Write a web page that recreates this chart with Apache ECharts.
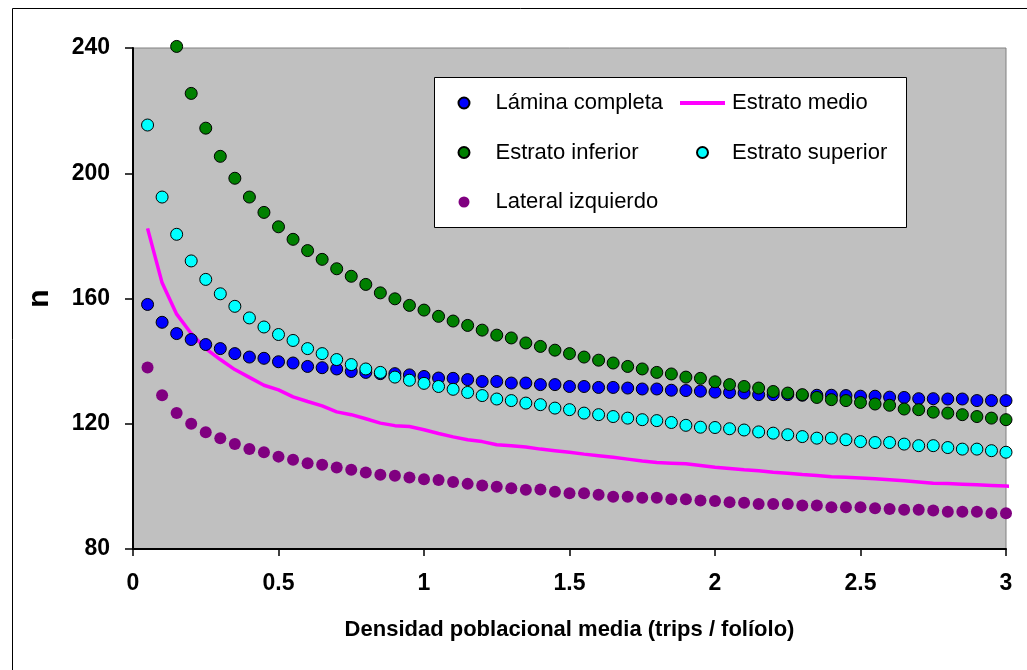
<!DOCTYPE html>
<html><head><meta charset="utf-8">
<script src="https://cdn.jsdelivr.net/npm/echarts@6/dist/echarts.min.js"></script>
<style>html,body{margin:0;padding:0;background:#fff}#c{width:1027px;height:670px}</style>
</head><body><div id="c"></div>
<script>
// x values (trips / folíolo)
const xValues = [0.05,0.1,0.15,0.2,0.25,0.3,0.35,0.4,0.45,0.5,0.55,0.6,0.65,0.7,0.75,0.8,0.85,0.9,0.95,1.0,
  1.05,1.1,1.15,1.2,1.25,1.3,1.35,1.4,1.45,1.5,1.55,1.6,1.65,1.7,1.75,1.8,1.85,1.9,1.95,2.0,
  2.05,2.1,2.15,2.2,2.25,2.3,2.35,2.4,2.45,2.5,2.55,2.6,2.65,2.7,2.75,2.8,2.85,2.9,2.95,3.0];
const laminaCompleta = [158.1,152.4,148.8,146.9,145.3,144.0,142.4,141.3,140.9,139.8,139.4,138.3,137.9,137.5,136.7,136.4,136.0,136.0,135.6,135.1,
  134.6,134.5,134.1,133.5,133.5,133.0,133.0,132.5,132.5,131.9,131.9,131.6,131.6,131.4,131.1,131.1,130.7,130.6,130.4,130.1,
  130.0,129.8,129.3,129.3,129.3,129.1,129.1,129.1,129.0,128.8,128.8,128.5,128.4,128.0,128.0,127.9,127.9,127.4,127.4,127.4];
const estratoInferior = [null,null,240.5,225.5,214.4,205.4,198.4,192.4,187.5,182.9,178.9,175.3,172.5,169.5,167.1,164.5,161.8,159.9,157.8,156.3,
  154.3,152.8,151.4,149.9,148.3,147.4,145.8,144.7,143.5,142.4,141.3,140.3,139.4,138.3,137.5,136.4,135.9,134.9,134.5,133.4,
  132.5,131.9,131.4,130.3,129.8,129.3,128.4,127.7,127.4,126.8,126.3,125.9,124.7,124.5,123.7,123.4,122.9,122.3,121.8,121.3];
const estratoSuperior = [215.4,192.4,180.5,172.0,166.1,161.5,157.5,153.8,150.9,148.5,146.6,144.0,142.4,140.5,138.9,137.5,136.4,134.9,133.9,132.9,
  131.9,131.0,130.0,129.0,127.9,127.4,126.6,126.1,125.0,124.5,123.4,122.9,122.3,121.8,121.3,121.0,120.4,119.5,118.9,118.8,
  118.4,118.0,117.4,117.0,116.5,115.9,115.4,115.4,114.9,114.3,114.0,114.0,113.5,113.0,113.0,112.4,111.9,111.9,111.4,110.9];
const lateralIzquierdo = [138.0,129.1,123.4,120.0,117.3,115.4,113.5,111.9,110.9,109.5,108.5,107.4,106.9,106.0,105.3,104.4,103.7,103.4,102.8,102.3,
  102.0,101.4,100.8,100.3,99.9,99.4,98.9,99.0,98.3,97.8,97.8,97.3,96.7,96.7,96.4,96.4,95.9,95.9,95.5,95.3,
  94.9,94.8,94.4,94.4,94.4,93.9,93.9,93.3,93.3,93.3,93.0,92.8,92.5,92.5,92.3,91.9,91.9,91.9,91.4,91.4];
// Estrato medio line (slightly extends past the last x)
const medioX = [0.05,0.1,0.15,0.2,0.25,0.3,0.35,0.4,0.45,0.5,0.55,0.6,0.65,0.7,0.75,0.8,0.85,0.9,0.95,1.0,
  1.05,1.1,1.15,1.2,1.25,1.3,1.35,1.4,1.45,1.5,1.55,1.6,1.65,1.7,1.75,1.8,1.85,1.9,1.95,2.0,
  2.05,2.1,2.15,2.2,2.25,2.3,2.35,2.4,2.45,2.5,2.55,2.6,2.65,2.7,2.75,2.8,2.85,2.9,2.95,3.0,3.025];
const estratoMedio = [182.4,165.0,155.0,148.8,144.0,140.5,137.3,134.8,132.3,130.8,128.6,127.1,125.7,123.8,122.9,121.6,120.2,119.4,119.1,118.1,
  116.9,115.8,114.9,114.3,113.3,113.0,112.6,111.9,111.4,110.9,110.3,109.8,109.3,108.7,108.1,107.6,107.4,107.2,106.7,106.1,
  105.7,105.3,105.0,104.5,104.2,103.8,103.5,103.1,102.9,102.7,102.4,102.1,101.8,101.4,101.0,100.9,100.7,100.5,100.3,100.1,99.9];

const yTicks = {min: 80, max: 240, interval: 40};
const xTicks = {min: 0, max: 3, interval: 0.5};

function pairs(xs, ys) {
  const out = [];
  for (let i = 0; i < ys.length; i++) if (ys[i] !== null) out.push([xs[i], ys[i]]);
  return out;
}

const FONT = "'Liberation Sans', Arial, sans-serif";
const chart = echarts.init(document.getElementById('c'), null, {renderer: 'canvas'});
const scatterBase = (name, data, color, border) => ({
  name, type: 'scatter', data: pairs(xValues, data), symbol: 'circle', symbolSize: 12, clip: false,
  itemStyle: {color, borderColor: border ? '#000' : color, borderWidth: border ? 1 : 0, opacity: 1},
  emphasis: {disabled: true}
});

chart.setOption({
  animation: false,
  backgroundColor: '#fff',
  grid: {left: 133, right: 21, top: 48, bottom: 121, show: true, backgroundColor: '#C0C0C0', borderColor: '#808080', borderWidth: 1},
  graphic: [
    {type: 'rect', left: 10, top: 6, z: 0, silent: true, shape: {x: 0, y: 0, width: 1100, height: 700}, style: {fill: 'none', stroke: '#000', lineWidth: 1}},
    {type: 'rect', left: 434, top: 77, z: 3, silent: true, shape: {x: 0, y: 0, width: 472, height: 150}, style: {fill: '#fff', stroke: '#000', lineWidth: 1}}
  ],
  legend: [
    {data: [{name: 'Lámina completa', icon: 'circle'}, {name: 'Estrato inferior', icon: 'circle'}, {name: 'Lateral izquierdo', icon: 'circle'}],
     orient: 'vertical', left: 457.5, top: 92, padding: 0, itemWidth: 11, itemHeight: 11, itemGap: 27.5, selectedMode: false, z: 5,
     textStyle: {fontFamily: FONT, fontSize: 22, color: '#000', lineHeight: 22, padding: [0, 0, 0, 21]}},
    {data: [{name: 'Estrato medio', icon: 'path://M0,0H45V4H0Z', itemStyle: {color: '#FF00FF', borderWidth: 0}}, {name: 'Estrato superior', icon: 'circle'}],
     orient: 'vertical', left: 680, top: 92, padding: 0, itemWidth: 45, itemHeight: 11, itemGap: 27.5, selectedMode: false, z: 5,
     symbolKeepAspect: true,
     textStyle: {fontFamily: FONT, fontSize: 22, color: '#000', lineHeight: 22, padding: [0, 0, 0, 2]}}
  ],
  xAxis: {
    type: 'value', min: xTicks.min, max: xTicks.max, interval: xTicks.interval,
    name: 'Densidad poblacional media (trips / folíolo)', nameLocation: 'middle', nameGap: 70,
    nameTextStyle: {fontFamily: FONT, fontSize: 22, fontWeight: 'bold', color: '#000'},
    axisLine: {show: true, onZero: false, lineStyle: {color: '#000', width: 2}},
    axisTick: {show: true, length: 7, lineStyle: {color: '#000', width: 1.5}},
    axisLabel: {margin: 23, fontFamily: FONT, fontSize: 23, fontWeight: 'bold', color: '#000'},
    splitLine: {show: false}
  },
  yAxis: {
    type: 'value', min: yTicks.min, max: yTicks.max, interval: yTicks.interval,
    name: 'n', nameLocation: 'middle', nameGap: 78, nameRotate: 90,
    nameTextStyle: {fontFamily: FONT, fontSize: 30, fontWeight: 'bold', color: '#000'},
    axisLine: {show: true, onZero: false, lineStyle: {color: '#000', width: 2}},
    axisTick: {show: true, length: 8, lineStyle: {color: '#000', width: 1.5}},
    axisLabel: {margin: 23, fontFamily: FONT, fontSize: 23, fontWeight: 'bold', color: '#000'},
    splitLine: {show: false}
  },
  series: [
    scatterBase('Lámina completa', laminaCompleta, '#0000FF', true),
    {name: 'Estrato medio', type: 'line', data: pairs(medioX, estratoMedio), symbol: 'none', showSymbol: false, clip: false,
     lineStyle: {color: '#FF00FF', width: 3.5}, itemStyle: {color: '#FF00FF'}, emphasis: {disabled: true}, z: 2},
    scatterBase('Estrato inferior', estratoInferior, '#008000', true),
    scatterBase('Estrato superior', estratoSuperior, '#00FFFF', true),
    scatterBase('Lateral izquierdo', lateralIzquierdo, '#800080', false)
  ]
});
</script>
</body></html>
